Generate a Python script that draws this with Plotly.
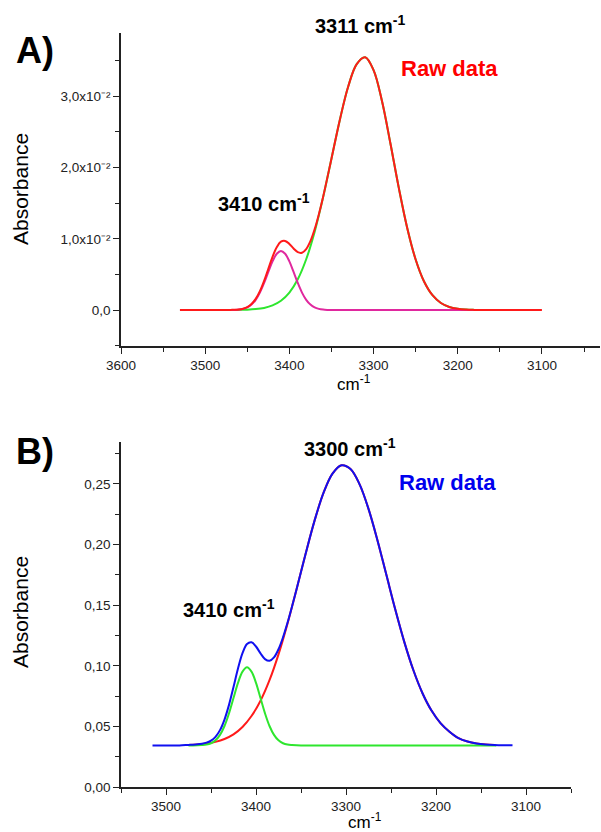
import plotly.graph_objects as go

# ---------------- Panel A data (wavenumber cm-1, absorbance) ----------------
a_raw_x = [3530, 3520, 3510, 3500, 3490, 3480, 3470, 3465, 3460, 3455, 3450, 3445, 3440, 3435,
           3430, 3425, 3420, 3415, 3410, 3405, 3400, 3395, 3390, 3385, 3380, 3375, 3370, 3365,
           3360, 3350, 3340, 3330, 3320, 3310, 3300, 3290, 3280, 3270, 3260, 3250, 3240, 3230,
           3220, 3210, 3200, 3190, 3180, 3170, 3160, 3150, 3140, 3130, 3120, 3110, 3100]
a_raw_y = [0.0, 0.0, 0.0, 0.0, 0.0, 0.0, 0.00002, 0.00003, 0.00008, 0.00019, 0.00041, 0.00084,
           0.00156, 0.00265, 0.00410, 0.00579, 0.00748, 0.00882, 0.00960, 0.00970, 0.00928,
           0.00864, 0.00812, 0.00805, 0.00856, 0.00967, 0.01133, 0.01343, 0.01585, 0.02125,
           0.02673, 0.03142, 0.03454, 0.03550, 0.03369, 0.02934, 0.02342, 0.01716, 0.01153,
           0.00710, 0.00401, 0.00208, 0.00099, 0.00043, 0.00017, 0.00006, 0.00002, 0.0, 0.0,
           0.0, 0.0, 0.0, 0.0, 0.0, 0.0]

a_main_x = [3480, 3470, 3460, 3450, 3440, 3430, 3420, 3410, 3400, 3390, 3380, 3370, 3360, 3350,
            3340, 3330, 3320, 3310, 3300, 3290, 3280, 3270, 3260, 3250, 3240, 3230, 3220, 3210,
            3200, 3190, 3180, 3170, 3160]
a_main_y = [0.0, 0.00001, 0.00002, 0.00005, 0.00013, 0.00030, 0.00065, 0.00130, 0.00245,
            0.00432, 0.00713, 0.01097, 0.01579, 0.02125, 0.02673, 0.03142, 0.03454, 0.03550,
            0.03369, 0.02934, 0.02342, 0.01716, 0.01153, 0.00710, 0.00401, 0.00208, 0.00099,
            0.00043, 0.00017, 0.00006, 0.00002, 0.00001, 0.0]

a_small_x = [3480, 3470, 3465, 3460, 3455, 3450, 3445, 3440, 3435, 3430, 3425, 3420, 3415, 3410,
             3405, 3400, 3395, 3390, 3385, 3380, 3375, 3370, 3365, 3360, 3355, 3350, 3340, 3300,
             3250, 3200, 3160]
a_small_y = [0.0, 0.00001, 0.00002, 0.00006, 0.00016, 0.00036, 0.00076, 0.00143, 0.00245,
             0.00380, 0.00535, 0.00683, 0.00790, 0.00830, 0.00790, 0.00683, 0.00535, 0.00380,
             0.00245, 0.00143, 0.00076, 0.00036, 0.00016, 0.00006, 0.00002, 0.00001, 0.0, 0.0,
             0.0, 0.0, 0.0]

# ---------------- Panel B data ----------------
b_raw_x = [3515, 3505, 3495, 3485, 3475, 3470, 3465, 3460, 3455, 3450, 3445, 3440, 3435, 3430,
           3425, 3420, 3415, 3410, 3405, 3400, 3395, 3390, 3385, 3380, 3375, 3370, 3365, 3360,
           3355, 3345, 3335, 3325, 3315, 3305, 3295, 3285, 3275, 3265, 3255, 3245, 3235, 3225,
           3215, 3205, 3195, 3185, 3175, 3165, 3155, 3145, 3135, 3125, 3115]
b_raw_y = [0.0345, 0.0345, 0.0345, 0.0345, 0.0349, 0.0351, 0.0354, 0.0359, 0.0368, 0.0385,
           0.0416, 0.0471, 0.0558, 0.0679, 0.0826, 0.0979, 0.1105, 0.1181, 0.1195, 0.1160,
           0.1103, 0.1056, 0.1042, 0.1070, 0.1137, 0.1235, 0.1355, 0.1489, 0.1630, 0.1920,
           0.2195, 0.2425, 0.2584, 0.2653, 0.2623, 0.2498, 0.2294, 0.2034, 0.1746, 0.1458,
           0.1192, 0.0962, 0.0775, 0.0632, 0.0529, 0.0458, 0.0405, 0.0377, 0.0361, 0.0353,
           0.0349, 0.0347, 0.0346]

b_main_x = [3475, 3465, 3455, 3445, 3435, 3425, 3415, 3405, 3395, 3385, 3375, 3365, 3355, 3345,
            3335, 3325, 3315, 3305, 3295, 3285, 3275, 3265, 3255, 3245, 3235, 3225, 3215, 3205,
            3195, 3185, 3175, 3165, 3155, 3145, 3135]
b_main_y = [0.0349, 0.0353, 0.0360, 0.0374, 0.0398, 0.0436, 0.0497, 0.0587, 0.0713, 0.0882,
            0.1095, 0.1348, 0.1629, 0.1920, 0.2195, 0.2425, 0.2584, 0.2653, 0.2623, 0.2498,
            0.2294, 0.2034, 0.1746, 0.1458, 0.1192, 0.0962, 0.0775, 0.0632, 0.0529, 0.0458,
            0.0405, 0.0377, 0.0361, 0.0353, 0.0349]

b_small_x = [3475, 3470, 3465, 3460, 3455, 3450, 3445, 3440, 3435, 3430, 3425, 3420, 3415, 3410,
             3405, 3400, 3395, 3390, 3385, 3380, 3375, 3370, 3365, 3360, 3355, 3350, 3300, 3250,
             3200, 3133]
b_small_y = [0.0345, 0.0345, 0.0346, 0.0348, 0.0352, 0.0363, 0.0387, 0.0432, 0.0505, 0.0609,
             0.0735, 0.0860, 0.0953, 0.0988, 0.0953, 0.0860, 0.0735, 0.0609, 0.0505, 0.0432,
             0.0387, 0.0363, 0.0352, 0.0348, 0.0346, 0.0345, 0.0345, 0.0345, 0.0345, 0.0345]

# tick labels
a_x_ticks = [3600, 3500, 3400, 3300, 3200, 3100]
a_y_tickvals = [0.0, 0.01, 0.02, 0.03]
a_y_ticktext = ["0,0", "1,0x10\u207b\u00b2", "2,0x10\u207b\u00b2", "3,0x10\u207b\u00b2"]
b_x_ticks = [3500, 3400, 3300, 3200, 3100]
b_y_tickvals = [0.0, 0.05, 0.10, 0.15, 0.20, 0.25]
b_y_ticktext = ["0,00", "0,05", "0,10", "0,15", "0,20", "0,25"]

RED = "#FF1A1A"
GREEN = "#2EE62E"
MAGENTA = "#E0289E"
BLUE = "#1010F0"
FONT = "Liberation Sans, Arial, sans-serif"

W, H = 601, 832


def px(x):
    return x / W


def py(y):
    return 1 - y / H


fig = go.Figure()
# Panel A: green, magenta, red on top
fig.add_trace(go.Scatter(x=a_main_x, y=a_main_y, mode="lines", line=dict(color=GREEN, width=2, shape="spline"),
                         xaxis="x", yaxis="y", showlegend=False))
fig.add_trace(go.Scatter(x=a_small_x, y=a_small_y, mode="lines", line=dict(color=MAGENTA, width=2, shape="spline"),
                         xaxis="x", yaxis="y", showlegend=False))
fig.add_trace(go.Scatter(x=a_raw_x, y=a_raw_y, mode="lines", line=dict(color=RED, width=2, shape="spline"),
                         xaxis="x", yaxis="y", showlegend=False))
# Panel B: red, green, blue on top
fig.add_trace(go.Scatter(x=b_main_x, y=b_main_y, mode="lines", line=dict(color=RED, width=2, shape="spline"),
                         xaxis="x2", yaxis="y2", showlegend=False))
fig.add_trace(go.Scatter(x=b_small_x, y=b_small_y, mode="lines", line=dict(color=GREEN, width=2, shape="spline"),
                         xaxis="x2", yaxis="y2", showlegend=False))
fig.add_trace(go.Scatter(x=b_raw_x, y=b_raw_y, mode="lines", line=dict(color=BLUE, width=2, shape="spline"),
                         xaxis="x2", yaxis="y2", showlegend=False))

axis_common = dict(showline=True, linecolor="#222", linewidth=1.5, ticks="outside", ticklen=6,
                   tickwidth=1.3, tickcolor="#222", showgrid=False, zeroline=False, automargin=False,
                   tickfont=dict(family=FONT, size=13.5, color="#222"))

fig.update_layout(
    width=W, height=H, margin=dict(l=0, r=0, t=0, b=0, autoexpand=False),
    paper_bgcolor="white", plot_bgcolor="white",
    xaxis=dict(domain=[px(121), px(600)], range=[3600, 3031], anchor="y",
               tickmode="array", tickvals=a_x_ticks,
               minor=dict(tickmode="linear", tick0=3050, dtick=100, ticks="outside", ticklen=4,
                          tickwidth=1.2, tickcolor="#222"),
               **axis_common),
    yaxis=dict(domain=[py(346), py(33)], range=[-0.00505, 0.0389], anchor="x",
               tickmode="array", tickvals=a_y_tickvals, ticktext=a_y_ticktext,
               minor=dict(tickmode="linear", tick0=0.005, dtick=0.01, ticks="outside", ticklen=4,
                          tickwidth=1.2, tickcolor="#222"),
               **axis_common),
    xaxis2=dict(domain=[px(121), px(571)], range=[3550, 3050], anchor="y2",
                tickmode="array", tickvals=b_x_ticks,
                minor=dict(tickmode="linear", tick0=3050, dtick=100, ticks="outside", ticklen=4,
                           tickwidth=1.2, tickcolor="#222"),
                **axis_common),
    yaxis2=dict(domain=[py(787.3), py(441.7)], range=[0, 0.2847], anchor="x2",
                tickmode="array", tickvals=b_y_tickvals, ticktext=b_y_ticktext,
                minor=dict(tickmode="linear", tick0=0.025, dtick=0.05, ticks="outside", ticklen=4,
                           tickwidth=1.2, tickcolor="#222"),
                **axis_common),
)


def ann(text, x, y, size, color="black", bold=False, angle=0):
    t = f"<b>{text}</b>" if bold else text
    fig.add_annotation(text=t, x=px(x), y=py(y), xref="paper", yref="paper", showarrow=False,
                       xanchor="center", yanchor="middle", textangle=angle,
                       font=dict(family=FONT, size=size, color=color))


ann("A)", 35, 50, 36, bold=True)
ann("B)", 35, 452, 36, bold=True)
ann("3311 cm<sup>-1</sup>", 360, 25, 20, bold=True)
ann("Raw data", 449, 68, 22, color="#FF0000", bold=True)
ann("3410 cm<sup>-1</sup>", 264, 203, 20, bold=True)
ann("3300 cm<sup>-1</sup>", 350, 447, 20, bold=True)
ann("Raw data", 447, 482, 22, color="#0000EE", bold=True)
ann("3410 cm<sup>-1</sup>", 229, 608, 20, bold=True)
ann("Absorbance", 20, 189, 21, angle=-90)
ann("Absorbance", 20, 612, 21, angle=-90)
ann("cm<sup>-1</sup>", 354, 383, 17)
ann("cm<sup>-1</sup>", 365, 821, 17)

fig.write_html("out.html", config={"displayModeBar": False},
               post_script="document.body.style.margin='0px';document.body.style.overflow='hidden';")
